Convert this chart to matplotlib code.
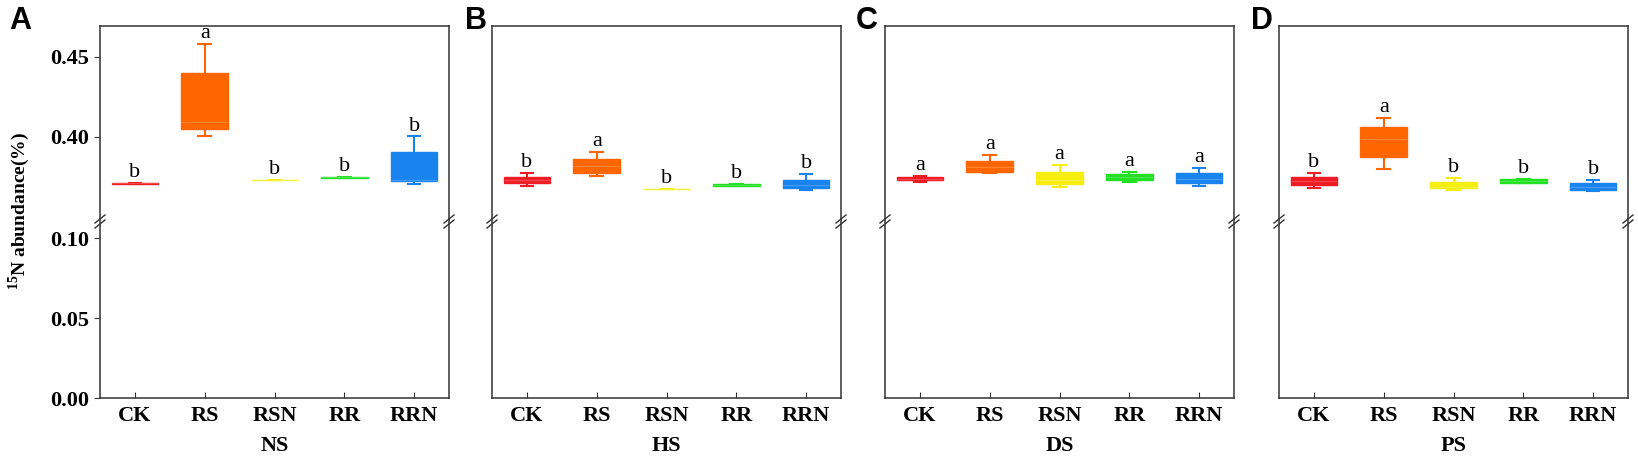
import numpy as np
import matplotlib
matplotlib.use("Agg")
import matplotlib.pyplot as plt

plt.rcParams['font.family'] = ['Liberation Serif', 'DejaVu Serif']
plt.rcParams['mathtext.fontset'] = 'custom'
plt.rcParams['mathtext.rm'] = 'Liberation Serif'
plt.rcParams['mathtext.bf'] = 'Liberation Serif:bold'

# dati (abbondanza 15N, %)
categories = ['CK', 'RS', 'RSN', 'RR', 'RRN']
panels = ['NS', 'HS', 'DS', 'PS']
panel_tags = ['A', 'B', 'C', 'D']
colors = ['#ee1c24', '#ff6600', '#f5ee10', '#22e022', '#1a84ee']

# per pannello: liste [CK, RS, RSN, RR, RRN]
whislo = {
    'NS': [0.3709, 0.4006, 0.3729, 0.3746, 0.3706],
    'HS': [0.3696, 0.3758, 0.3672, 0.3696, 0.3667],
    'DS': [0.3719, 0.3777, 0.3690, 0.3719, 0.3696],
    'PS': [0.3679, 0.3800, 0.3671, 0.3711, 0.3663],
}
q1 = {
    'NS': [0.3709, 0.4048, 0.3729, 0.3746, 0.3725],
    'HS': [0.3711, 0.3777, 0.3672, 0.3696, 0.3679],
    'DS': [0.3729, 0.3783, 0.3704, 0.3731, 0.3711],
    'PS': [0.3700, 0.3877, 0.3679, 0.3715, 0.3669],
}
med = {
    'NS': [0.3711, 0.4090, 0.3731, 0.3748, 0.3728],
    'HS': [0.3731, 0.3815, 0.3673, 0.3700, 0.3700],
    'DS': [0.3740, 0.3810, 0.3730, 0.3750, 0.3740],
    'PS': [0.3725, 0.3985, 0.3690, 0.3725, 0.3690],
}
q3 = {
    'NS': [0.3713, 0.4398, 0.3733, 0.3750, 0.3904],
    'HS': [0.3752, 0.3860, 0.3674, 0.3704, 0.3731],
    'DS': [0.3750, 0.3848, 0.3783, 0.3769, 0.3773],
    'PS': [0.3752, 0.4058, 0.3721, 0.3735, 0.3715],
}
whishi = {
    'NS': [0.3713, 0.4580, 0.3733, 0.3750, 0.4002],
    'HS': [0.3773, 0.3904, 0.3674, 0.3704, 0.3767],
    'DS': [0.3755, 0.3888, 0.3825, 0.3783, 0.3804],
    'PS': [0.3773, 0.4117, 0.3742, 0.3738, 0.3731],
}
letters = {
    'NS': ['b', 'a', 'b', 'b', 'b'],
    'HS': ['b', 'a', 'b', 'b', 'b'],
    'DS': ['a', 'a', 'a', 'a', 'a'],
    'PS': ['b', 'a', 'b', 'b', 'b'],
}

W, H = 1638, 462
lefts = [100, 492, 885, 1279]
tag_x = [20, 476, 867, 1262]
width_px = 349
top_px, brk_px, bot_px = 26, 219, 398


def main():
    fig = plt.figure(figsize=(W / 100, H / 100), dpi=100)

    for i, p in enumerate(panels):
        x0 = lefts[i] / W
        w = width_px / W
        ax_top = fig.add_axes([x0, 1 - brk_px / H, w, (brk_px - top_px) / H])
        ax_bot = fig.add_axes([x0, 1 - bot_px / H, w, (bot_px - brk_px) / H])

        stats = []
        for j, c in enumerate(categories):
            stats.append(dict(label=c, whislo=whislo[p][j], q1=q1[p][j], med=med[p][j],
                              q3=q3[p][j], whishi=whishi[p][j], fliers=[]))
        pos = np.arange(1, len(categories) + 1)
        bp = ax_top.bxp(stats, positions=pos, widths=0.67, patch_artist=True,
                        showfliers=False, capwidths=0.18)
        for j, col in enumerate(colors):
            bp['boxes'][j].set_facecolor(col)
            bp['boxes'][j].set_edgecolor(col)
            bp['boxes'][j].set_linewidth(1.0)
            bp['medians'][j].set_color('#ffffff')
            bp['medians'][j].set_alpha(0.2)
            bp['medians'][j].set_linewidth(0.8)
            for k in (2 * j, 2 * j + 1):
                bp['whiskers'][k].set_color(col)
                bp['whiskers'][k].set_linewidth(1.5)
                bp['caps'][k].set_color(col)
                bp['caps'][k].set_linewidth(1.5)
            ax_top.text(pos[j], whishi[p][j] + 0.0065, letters[p][j], ha='center',
                        va='center', fontsize=16)

        ax_top.set_ylim(0.3488, 0.469)
        ax_bot.set_ylim(0, 0.1119)
        for ax in (ax_top, ax_bot):
            ax.set_xlim(0.5, 5.5)
            for s in ax.spines.values():
                s.set_linewidth(1.1)
                s.set_color('#333333')
        ax_top.spines['bottom'].set_visible(False)
        ax_bot.spines['top'].set_visible(False)
        ax_top.tick_params(bottom=False, labelbottom=False)
        ax_bot.set_xticks(pos)
        ax_bot.set_xticklabels(categories, fontsize=16, fontweight='bold')
        ax_bot.tick_params(axis='x', direction='in', length=4, pad=6, color='#333333')
        ax_bot.set_xlabel(p, fontsize=16, fontweight='bold', labelpad=7)

        if i == 0:
            ax_top.set_yticks([0.40, 0.45])
            ax_top.set_yticklabels(['0.40', '0.45'])
            ax_bot.set_yticks([0.00, 0.05, 0.10])
            ax_bot.set_yticklabels(['0.00', '0.05', '0.10'])
            for ax in (ax_top, ax_bot):
                ax.tick_params(axis='y', direction='out', length=4, pad=4,
                               labelsize=16, color='#333333')
                for lab in ax.get_yticklabels():
                    lab.set_fontweight('bold')
        else:
            for ax in (ax_top, ax_bot):
                ax.tick_params(axis='y', left=False, labelleft=False)

        # segni di interruzione asse
        dx, dy = 5 / width_px, 4 / (bot_px - brk_px)
        for xe in (0, 1):
            for off in (0.0, -5 / (bot_px - brk_px)):
                ax_bot.plot([xe - dx, xe + dx], [1 + off - dy, 1 + off + dy],
                            transform=ax_bot.transAxes, color='#333333', lw=1.0,
                            clip_on=False)

        fig.text(tag_x[i] / W, 1 - 21 / H, panel_tags[i], fontsize=22, fontweight='bold',
                 family='Liberation Sans', ha='center', va='center')

    fig.text(19 / W, 1 - 211 / H, r'$^{\mathbf{15}}$N abundance(%)', rotation=90,
             fontsize=14, fontweight='bold', ha='center', va='center')

    plt.savefig("out.png", dpi=100)


if __name__ == "__main__":
    main()
